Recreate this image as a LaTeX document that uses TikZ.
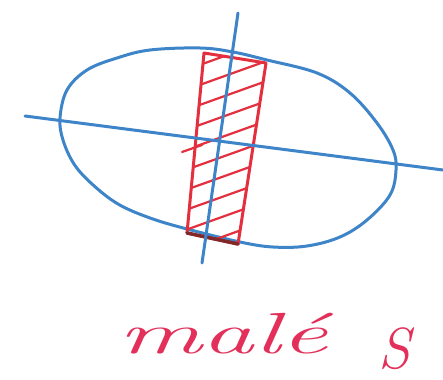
\documentclass[tikz,border=0pt]{standalone}
\usepackage{fontspec}
\definecolor{penblue}{RGB}{62,132,200}
\definecolor{penred}{RGB}{228,48,62}
\definecolor{penpink}{RGB}{226,48,90}
\definecolor{pendark}{RGB}{130,40,40}
\tikzset{
  blueline/.style={draw=penblue, line width=3pt, line cap=round, line join=round},
  redline/.style={draw=penred, line width=3pt, line cap=round, line join=round},
  hatchline/.style={draw=penred, line width=2.2pt, line cap=round},
  handtext/.style={text=penpink, font=\fontsize{58}{60}\selectfont\itshape, inner sep=0pt}
}
\begin{document}
\begin{tikzpicture}[x=1pt,y=-1pt]
\useasboundingbox (0,0) rectangle (443,379);
% ellipse
\draw[blueline] plot[smooth cycle, tension=0.6] coordinates {
 (60,118) (67,90) (87,70) (117,58) (150,50) (200,48) (233,52) (267,60)
 (317,73) (350,93) (377,123) (393,150) (396,170) (390,195) (367,220)
 (340,237) (307,246) (273,247) (240,242) (187,229) (150,218) (118,204)
 (92,184) (74,164) (63,140)};
% hatching
\begin{scope}
\clip (204,53) -- (266,63) -- (238,244) -- (187,233) -- cycle;
\foreach \yy in {72,92,112,132,152,172,192,212,232,252}{
  \draw[hatchline] (180,\yy) -- (275,\yy-34);
}
\end{scope}
\draw[hatchline] (182,152) -- (202,145);
% rectangle
\draw[redline] (204,53) -- (266,63) -- (238,244) -- (187,233) -- cycle;
\draw[draw=pendark, line width=3.5pt, line cap=round] (187,233) -- (238,244);
% axes
\draw[blueline] (25,116) -- (443,170);
\draw[blueline] (238,13) -- (202,263);
% label
\node[handtext, xscale=1.8, anchor=base west] (lbl) at (118,353) {malé};
\node[handtext, anchor=base west] (s) at (378,368) {S};
\end{tikzpicture}
\end{document}
